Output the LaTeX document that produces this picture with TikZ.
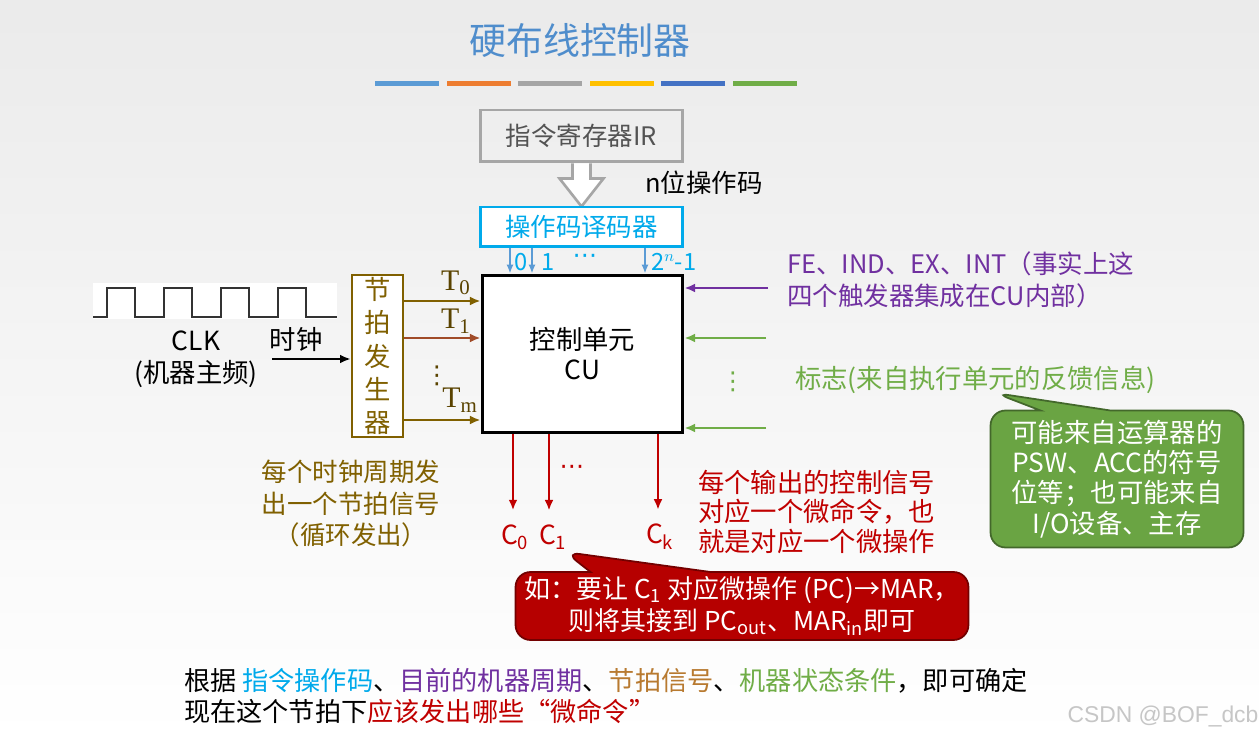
\documentclass[tikz,border=0pt]{standalone}
\usepackage{fontspec}
\setmainfont{Noto Sans CJK SC}
\newfontfamily\serifT{Liberation Serif}
\newfontfamily\wmfont{Liberation Sans}
\newfontfamily\dotfont{DejaVu Sans}
\usetikzlibrary{arrows.meta,shapes.callouts}

\definecolor{titleblue}{RGB}{79,141,204}
\definecolor{barblue}{RGB}{91,155,213}
\definecolor{barorange}{RGB}{237,125,49}
\definecolor{bargray}{RGB}{165,165,165}
\definecolor{baryellow}{RGB}{255,192,0}
\definecolor{bardkblue}{RGB}{68,114,196}
\definecolor{bargreen}{RGB}{112,173,71}
\definecolor{decblue}{RGB}{0,170,235}
\definecolor{tolive}{RGB}{128,96,0}
\definecolor{tbrown}{RGB}{160,75,40}
\definecolor{cupurple}{RGB}{112,48,160}
\definecolor{sigred}{RGB}{192,0,0}
\definecolor{bbrown}{RGB}{184,122,48}

\tikzset{
  txt/.style={font=\fontsize{14.5}{18}\selectfont, inner sep=1pt},
  dots/.style={font=\dotfont\fontsize{14}{16}\selectfont, inner sep=0pt},
  boxed/.style={draw, line width=1.7pt, inner sep=0pt},
  sig/.style={line width=1.2pt, -{Latex[length=6pt,width=5pt]}},
}

\begin{document}
\begin{tikzpicture}[x=0.02cm, y=-0.02cm]

  % Background
  \shade[top color=black!8, bottom color=white] (0,0) rectangle (1259,739);
  \useasboundingbox (0,0) rectangle (1259,739);

  % Title and colour bars
  \node[font=\fontsize{21}{25}\selectfont, text=titleblue] (title) at (580,40) {硬布线控制器};
  \foreach \c [count=\i from 0] in {barblue,barorange,bargray,baryellow,bardkblue,bargreen} {
    \fill[\c] (375+\i*71.6, 81) rectangle ++(64,5);
  }

  % Instruction register and decoder
  \node[boxed, txt, draw=gray!70, text=gray!65!black, minimum width=4.06cm, minimum height=1.04cm]
    (ir) at (581.5,136) {指令寄存器IR};
  \draw[gray!70, line width=1.5pt, fill=white, shift={(ir.south)}]
    (-9,0) -- (-9,15) -- (-22,15) -- (0,43) -- (22,15) -- (9,15) -- (9,0);
  \node[txt, anchor=west] (nbit) at (643,183) {n位操作码};
  \node[boxed, txt, draw=decblue, text=decblue, fill=white, minimum width=4.06cm, minimum height=0.8cm]
    (dec) at (581.5,227) {操作码译码器};

  % Control unit
  \node[boxed, txt, fill=white, minimum width=4.02cm, minimum height=3.16cm, align=center,
    font=\fontsize{15}{17}\selectfont] (cu) at (582.5,354) {控制单元\\CU};

  % Decoder outputs
  \foreach \x in {510,532,645} {
    \draw[barblue, line width=1pt, -{Latex[length=5pt,width=4pt]}] (\x,0 |- dec.south) -- (\x,0 |- cu.north);
  }
  \node[txt, text=decblue, font=\fontsize{13.5}{15}\selectfont] (d0) at (521,262) {0};
  \node[txt, text=decblue, font=\fontsize{13.5}{15}\selectfont] (d1) at (548,262) {1};
  \node[dots, text=decblue] (ddots) at (585,259) {⋯};
  \node[txt, text=decblue, font=\fontsize{13.5}{15}\selectfont, anchor=west] (dn) at (649,262) {2$^{n}$-1};

  % Clock
  \fill[white] (93,283) rectangle (337,319);
  \draw[line width=1.2pt, black!80] (93,317)
    \foreach \x in {107,164,221,278} { -- (\x,317) -- (\x,288) -- ++(28,0) -- ++(0,29) } -- (337,317);
  \node[txt, align=center, font=\fontsize{15}{18}\selectfont] (clk) at (196,359) {CLK\\(机器主频)};
  \node[txt, font=\fontsize{15}{18}\selectfont] (shizhong) at (296,340) {时钟};

  % Timing generator
  \node[boxed, draw=tolive, text=tolive, line width=1.5pt, fill=white, minimum width=1.02cm, minimum height=3.24cm,
    align=center, font=\fontsize{15}{19}\selectfont] (gen) at (377.5,356) {节\\拍\\发\\生\\器};
  \coordinate (clkin) at (272,359);
  \draw[sig, black] (clkin) -- (clkin -| gen.west);

  % Beat signals
  \foreach \y/\c in {301/tolive, 338/tbrown, 420/tolive} {
    \draw[sig, \c] (gen.east |- 0,\y) -- (cu.west |- 0,\y);
  }
  \node[txt, text=tolive!70!black, font=\serifT\fontsize{17}{18}\selectfont] (t0) at (456,283) {T\textsubscript{0}};
  \node[txt, text=tolive!70!black, font=\serifT\fontsize{17}{18}\selectfont] (t1) at (456,321) {T\textsubscript{1}};
  \node[dots, text=tolive!70!black] (tdots) at (437,376) {⋮};
  \node[txt, text=tolive!70!black, font=\serifT\fontsize{17}{18}\selectfont] (tm) at (460,400) {T\textsubscript{m}};
  \node[txt, text=tolive, align=center, anchor=north] (beatnote) at (351,458)
    {每个时钟周期发\\出一个节拍信号\\（循环发出）};

  % Flip-flops and flags
  \coordinate (ffin) at (768,288);
  \draw[sig, cupurple] (ffin) -- (ffin -| cu.east);
  \node[txt, text=cupurple, align=left, anchor=west] (ff) at (785,280)
    {FE、IND、EX、INT（事实上这\\四个触发器集成在CU内部）};
  \coordinate (flag1) at (766,338);
  \coordinate (flag2) at (766,428);
  \draw[sig, bargreen] (flag1) -- (flag1 -| cu.east);
  \draw[sig, bargreen] (flag2) -- (flag2 -| cu.east);
  \node[dots, text=bargreen] (fdots) at (733,382) {⋮};
  \node[txt, text=bargreen, anchor=west, font=\fontsize{15}{18}\selectfont] (flags) at (793,380) {标志(来自执行单元的反馈信息)};
  \node[rectangle callout, fill=bargreen!95!black, draw=bargreen!60!black, line width=1pt,
    rounded corners=0.3cm, minimum width=5.06cm, minimum height=2.74cm, inner sep=2pt,
    callout absolute pointer={(995,393)}, callout pointer width=1.4cm,
    text=white, align=center, font=\fontsize{15}{17.2}\selectfont] (flagnote) at (1117,479)
    {可能来自运算器的\\PSW、ACC的符号\\位等；也可能来自\\I/O设备、主存};

  % Control signal outputs
  \node[txt, text=sigred, font=\fontsize{15}{17}\selectfont, inner ysep=8pt] (c0) at (515,537) {C\textsubscript{0}};
  \node[txt, text=sigred, font=\fontsize{15}{17}\selectfont, inner ysep=8pt] (c1) at (553,537) {C\textsubscript{1}};
  \node[txt, text=sigred, font=\fontsize{15}{17}\selectfont, inner ysep=8pt] (ck) at (660,537) {C\textsubscript{k}};
  \foreach \c/\x in {c0/513, c1/549, ck/658} {
    \draw[sig, sigred] (\x,0 |- cu.south) -- (\x,0 |- \c.north);
  }
  \node[dots, text=sigred] (cdots) at (572,470) {⋯};
  \node[txt, text=sigred, align=left, anchor=west, font=\fontsize{15}{17}\selectfont] (signote) at (696,512)
    {每个输出的控制信号\\对应一个微命令，也\\就是对应一个微操作};
  \node[rectangle callout, fill=sigred!95!black, draw=sigred!60!black, line width=1pt,
    rounded corners=0.3cm, minimum width=9.06cm, minimum height=1.36cm, inner sep=2pt,
    callout absolute pointer={(565,552)}, callout pointer width=2.4cm,
    text=white, align=center, font=\fontsize{14.8}{18}\selectfont] (example) at (742,606)
    {如：要让 C\textsubscript{1} 对应微操作 (PC)→MAR，\\则将其接到 PC\textsubscript{out}、MAR\textsubscript{in}即可};

  % Summary
  \node[txt, align=left, anchor=west, font=\fontsize{14.9}{18}\selectfont] (summary) at (182,696)
    {根据 {\color{decblue}指令操作码}、{\color{cupurple}目前的机器周期}、{\color{bbrown}节拍信号}、{\color{bargreen}机器状态条件}，即可确定\\现在这个节拍下{\color{sigred}应该发出哪些“微命令”}};

  % Watermark
  \node[text=gray!45, font=\wmfont\fontsize{13}{15}\selectfont] (wm) at (1163,716) {CSDN @BOF\_dcb};

\end{tikzpicture}
\end{document}
